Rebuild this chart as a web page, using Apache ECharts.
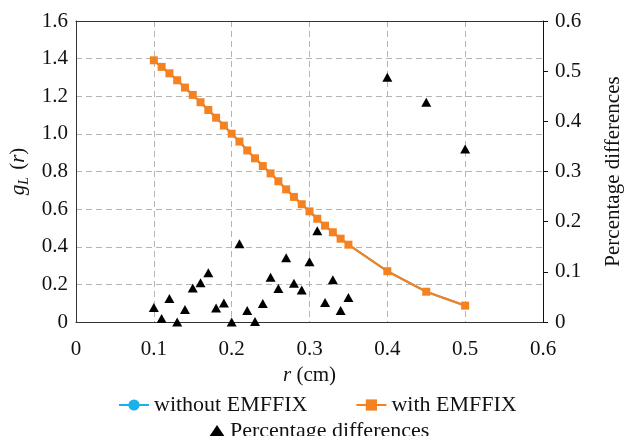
<!DOCTYPE html>
<html>
<head>
<meta charset="utf-8">
<script src="https://cdn.jsdelivr.net/npm/echarts@6/dist/echarts.min.js"></script>
<style>html,body{margin:0;padding:0;background:#fff}#c{width:632px;height:436px}</style>
</head>
<body>
<div id="c"></div>
<script>
// ---- data ----
var rValues = [0.10,0.11,0.12,0.13,0.14,0.15,0.16,0.17,0.18,0.19,0.20,0.21,0.22,0.23,0.24,0.25,0.26,0.27,0.28,0.29,0.30,0.31,0.32,0.33,0.34,0.35,0.40,0.45,0.50];
var gWithout = [1.391,1.356,1.322,1.285,1.246,1.207,1.168,1.127,1.086,1.044,1.001,0.959,0.912,0.870,0.829,0.790,0.748,0.705,0.665,0.626,0.588,0.549,0.512,0.477,0.443,0.411,0.270,0.161,0.087];
var gWith    = [1.391,1.356,1.322,1.285,1.246,1.207,1.168,1.127,1.086,1.044,1.001,0.959,0.912,0.870,0.829,0.790,0.748,0.705,0.665,0.626,0.588,0.549,0.512,0.477,0.443,0.411,0.270,0.161,0.087];
var pctDiff  = [0.029,0.007,0.047,0.000,0.025,0.068,0.078,0.098,0.028,0.038,0.000,0.156,0.023,0.001,0.037,0.089,0.067,0.128,0.077,0.064,0.120,0.182,0.039,0.084,0.023,0.049,0.488,0.438,0.345];
var xTickLabels = ['0','0.1','0.2','0.3','0.4','0.5','0.6'];
var yLeftTickLabels = ['0','0.2','0.4','0.6','0.8','1.0','1.2','1.4','1.6'];
var yRightTickLabels = ['0','0.1','0.2','0.3','0.4','0.5','0.6'];
var seriesNames = ['without EMFFIX','with EMFFIX','Percentage differences'];

function pair(xs, ys){ return xs.map(function(x,i){ return [x, ys[i]]; }); }

var FONT = 'Liberation Serif';
var chart = echarts.init(document.getElementById('c'), null, {renderer:'canvas'});
var gridDash = {color:'#b4b4b4', width:1, type:[6,4]};

chart.setOption({
  animation:false,
  textStyle:{fontFamily:FONT, color:'#111'},
  grid:{left:76, right:82, top:21, bottom:114, show:false},
  legend:[{
    data:[seriesNames[0], seriesNames[1]],
    left:113, top:389, itemWidth:30, itemHeight:14, itemGap:48,
    textStyle:{fontFamily:FONT, fontSize:22, color:'#111'}
  },{
    data:[seriesNames[2]],
    left:204, top:415, itemWidth:16, itemHeight:12, itemGap:10,
    textStyle:{fontFamily:FONT, fontSize:22, color:'#111'}
  }],
  xAxis:[{
    type:'value', min:0, max:0.6, interval:0.1,
    name:'{i|r} (cm)', nameLocation:'middle', nameGap:43,
    nameTextStyle:{fontFamily:FONT, fontSize:21, color:'#111', rich:{i:{fontFamily:FONT, fontSize:21, fontStyle:'italic', color:'#111'}}},
    axisLine:{show:true, lineStyle:{color:'#333', width:1}},
    axisTick:{show:false},
    axisLabel:{margin:17, fontFamily:FONT, fontSize:21, color:'#111',
      formatter:function(v){ return xTickLabels[Math.round(v*10)]; }},
    splitLine:{show:true, lineStyle:gridDash}, z:1
  },{
    type:'value', min:0, max:0.6, interval:0.1, position:'top',
    axisLine:{show:true, onZero:false, lineStyle:{color:'#333', width:1}},
    axisTick:{show:false}, axisLabel:{show:false}, splitLine:{show:false}, z:5
  }],
  yAxis:[{
    type:'value', min:0, max:1.6, interval:0.2, position:'left',
    name:'{i|g}{sub|L} ({i|r})', nameLocation:'middle', nameGap:32, nameRotate:90,
    nameTextStyle:{fontFamily:FONT, fontSize:21, color:'#111', rich:{
      i:{fontFamily:FONT, fontSize:21, fontStyle:'italic', color:'#111'},
      sub:{fontFamily:FONT, fontSize:14, fontStyle:'italic', color:'#111', verticalAlign:'bottom', padding:[10,2,0,0]}
    }},
    axisLine:{show:true, onZero:false, lineStyle:{color:'#333', width:1}},
    axisTick:{show:false},
    axisLabel:{margin:8, fontFamily:FONT, fontSize:21, color:'#111',
      formatter:function(v){ return yLeftTickLabels[Math.round(v*5)]; }},
    splitLine:{show:true, lineStyle:gridDash}, z:1
  },{
    type:'value', min:0, max:0.6, interval:0.1, position:'right',
    name:'Percentage differences', nameLocation:'middle', nameGap:60, nameRotate:90,
    nameTextStyle:{fontFamily:FONT, fontSize:21, color:'#111'},
    axisLine:{show:true, onZero:false, lineStyle:{color:'#111', width:1}},
    axisTick:{show:true, length:5, lineStyle:{color:'#111'}},
    axisLabel:{margin:12, fontFamily:FONT, fontSize:21, color:'#111',
      formatter:function(v){ return yRightTickLabels[Math.round(v*10)]; }},
    splitLine:{show:false}, z:5
  }],
  series:[{
    name:seriesNames[0], type:'line', yAxisIndex:0, data:pair(rValues,gWithout),
    symbol:'circle', symbolSize:6, showAllSymbol:true,
    lineStyle:{color:'#1ab0e8', width:2}, itemStyle:{color:'#1ab0e8'}, z:2
  },{
    name:seriesNames[1], type:'line', yAxisIndex:0, data:pair(rValues,gWith),
    symbol:'rect', symbolSize:8, showAllSymbol:true,
    lineStyle:{color:'#f58220', width:2.2}, itemStyle:{color:'#f58220'}, z:3
  },{
    name:seriesNames[2], type:'scatter', yAxisIndex:1, data:pair(rValues,pctDiff),
    symbol:'triangle', symbolSize:[10,9],
    itemStyle:{color:'#000', opacity:1}, z:4
  }]
});
</script>
</body>
</html>
